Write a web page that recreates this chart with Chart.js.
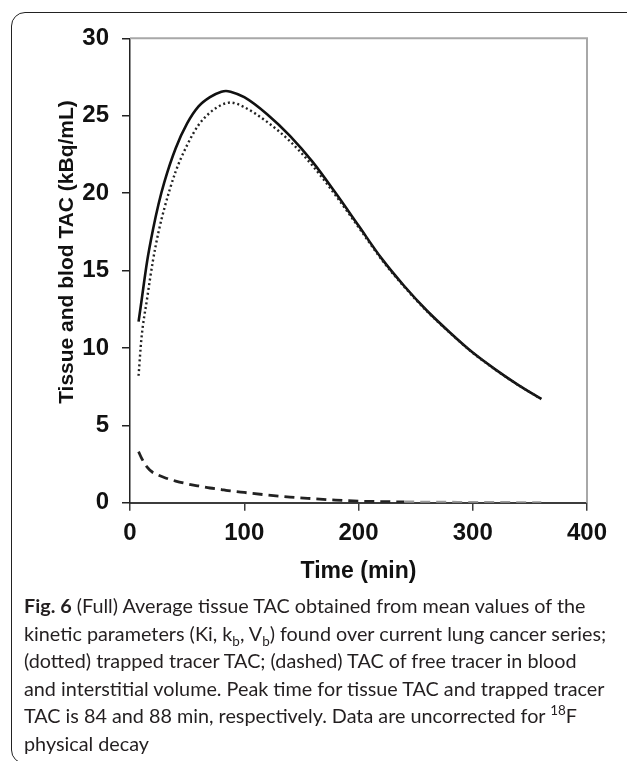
<!DOCTYPE html>
<html>
<head>
<meta charset="utf-8">
<script src="https://cdn.jsdelivr.net/npm/chart.js@4.4.1/dist/chart.umd.min.js"></script>
<style>
  html, body { margin: 0; padding: 0; background: #fff; }
  body { width: 627px; height: 761px; position: relative; overflow: hidden; }
  .frame {
    position: absolute; left: 11px; top: 12px; width: 660px; height: 750px;
    border: 1.5px solid #222; border-radius: 14px;
  }
  #plot { position: absolute; left: 0; top: 0; }
  .caption {
    position: absolute; left: 24px; top: 592px;
    font-family: Lato, "Open Sans", sans-serif; font-size: 19.8px; line-height: 27.5px;
    color: #231f20; white-space: nowrap;
  }
  .caption b { font-weight: 700; }
  .caption sub, .caption sup { font-size: 0.68em; line-height: 0; }
</style>
</head>
<body>
<div class="frame"></div>
<canvas id="plot" width="627" height="600"></canvas>
<div class="caption">
  <div><b>Fig. 6</b> (Full) Average tissue TAC obtained from mean values of the</div>
  <div>kinetic parameters (Ki, k<sub>b</sub>, V<sub>b</sub>) found over current lung cancer series;</div>
  <div>(dotted) trapped tracer TAC; (dashed) TAC of free tracer in blood</div>
  <div>and interstitial volume. Peak time for tissue TAC and trapped tracer</div>
  <div>TAC is 84 and 88 min, respectively. Data are uncorrected for <sup>18</sup>F</div>
  <div>physical decay</div>
</div>
<script>
// sampling times (min)
const timeMin = [7.5, 10, 15, 20, 25, 30, 40, 50, 60, 70, 80, 84, 88, 100, 120, 140, 160, 180, 200, 220, 240, 260, 280, 300, 320, 340, 360];
// full tissue TAC (kBq/mL)
const tissueTac = [11.7, 13.0, 15.6, 17.6, 19.3, 20.7, 22.9, 24.5, 25.6, 26.2, 26.55, 26.6, 26.55, 26.2, 25.1, 23.7, 22.0, 20.0, 17.9, 15.8, 14.0, 12.4, 11.0, 9.7, 8.6, 7.6, 6.7];
// trapped tracer TAC
const trappedTac = [8.2, 10.6, 13.2, 15.6, 17.5, 19.0, 21.4, 23.1, 24.4, 25.2, 25.7, 25.8, 25.85, 25.55, 24.6, 23.35, 21.75, 19.85, 17.8, 15.73, 13.95, 12.36, 10.97, 9.68, 8.58, 7.59, 6.69];
// free tracer in blood and interstitial volume
const freeTac = [3.3, 2.9, 2.3, 1.95, 1.78, 1.63, 1.4, 1.22, 1.08, 0.95, 0.85, 0.8, 0.76, 0.66, 0.5, 0.36, 0.26, 0.17, 0.1, 0.07, 0.05, 0.04, 0.03, 0.02, 0.02, 0.01, 0.01];

const xTicks = [0, 100, 200, 300, 400];
const yTicks = [0, 5, 10, 15, 20, 25, 30];
const yAxisTitle = 'Tissue and blod TAC (kBq/mL)';

const toPoints = vals => vals.map((v, i) => ({ x: timeMin[i], y: v }));

const tickFont = { family: "'Liberation Sans', Arial, sans-serif", size: 24, weight: 'bold' };
const titleFont = { family: "'Liberation Sans', Arial, sans-serif", size: 23, weight: 'bold' };

// light frame on the top and right of the plot area
const plotFrame = {
  id: 'plotFrame',
  beforeDatasetsDraw(chart) {
    const { ctx, chartArea: a } = chart;
    ctx.save();
    ctx.strokeStyle = '#a8a8a8';
    ctx.lineWidth = 2;
    ctx.beginPath();
    ctx.moveTo(a.left, a.top);
    ctx.lineTo(a.right, a.top);
    ctx.lineTo(a.right, a.bottom);
    ctx.stroke();
    ctx.restore();
  }
};

// y axis title, set a little above the axis middle
const yTitle = {
  id: 'yTitle',
  afterDraw(chart) {
    const { ctx } = chart;
    ctx.save();
    ctx.translate(67, 252);
    ctx.rotate(-Math.PI / 2);
    ctx.font = "bold 21px 'Liberation Sans', Arial, sans-serif";
    ctx.fillStyle = '#111';
    ctx.textAlign = 'center';
    ctx.textBaseline = 'middle';
    ctx.fillText(yAxisTitle, 0, 0);
    ctx.restore();
  }
};

new Chart(document.getElementById('plot'), {
  type: 'line',
  data: {
    datasets: [
      {
        label: 'Free tracer',
        data: toPoints(freeTac),
        borderColor: '#222',
        borderWidth: 2.8,
        borderDash: [10, 6],
        pointRadius: 0,
        cubicInterpolationMode: 'monotone',
        // the tail near zero prints lighter
        segment: { borderColor: ctx => (ctx.p0.parsed.x >= 240 ? '#9a9a9a' : '#222') }
      },
      {
        label: 'Trapped tracer',
        data: toPoints(trappedTac),
        borderColor: '#222',
        borderWidth: 2.4,
        borderDash: [2, 2.8],
        pointRadius: 0,
        cubicInterpolationMode: 'monotone'
      },
      {
        label: 'Tissue TAC',
        data: toPoints(tissueTac),
        borderColor: '#111',
        borderWidth: 2.6,
        pointRadius: 0,
        cubicInterpolationMode: 'monotone'
      }
    ]
  },
  options: {
    responsive: false,
    animation: false,
    layout: { padding: { left: 55, right: 40, top: 38.3, bottom: 14.2 } },
    plugins: {
      legend: { display: false },
      tooltip: { enabled: false }
    },
    scales: {
      x: {
        type: 'linear',
        min: 0,
        max: 400,
        afterBuildTicks: scale => { scale.ticks = xTicks.map(v => ({ value: v })); },
        afterFit: scale => { scale.height = 83.1; },
        border: { color: '#3c3c3c', width: 2 },
        grid: { drawOnChartArea: false, drawTicks: true, tickLength: 8, color: '#3c3c3c', lineWidth: 1.5 },
        ticks: { color: '#111', font: tickFont, padding: 8, maxRotation: 0 },
        title: { display: true, text: 'Time (min)', color: '#111', font: titleFont, padding: 0 }
      },
      y: {
        min: 0,
        max: 30,
        afterBuildTicks: scale => { scale.ticks = yTicks.map(v => ({ value: v })); },
        afterFit: scale => { scale.width = 75; },
        border: { color: '#222', width: 1.5 },
        grid: { drawOnChartArea: false, drawTicks: true, tickLength: 8, color: '#222', lineWidth: 1.5 },
        ticks: { color: '#111', font: tickFont, padding: 13 },
        title: { display: false }
      }
    }
  },
  plugins: [plotFrame, yTitle]
});
</script>
</body>
</html>
